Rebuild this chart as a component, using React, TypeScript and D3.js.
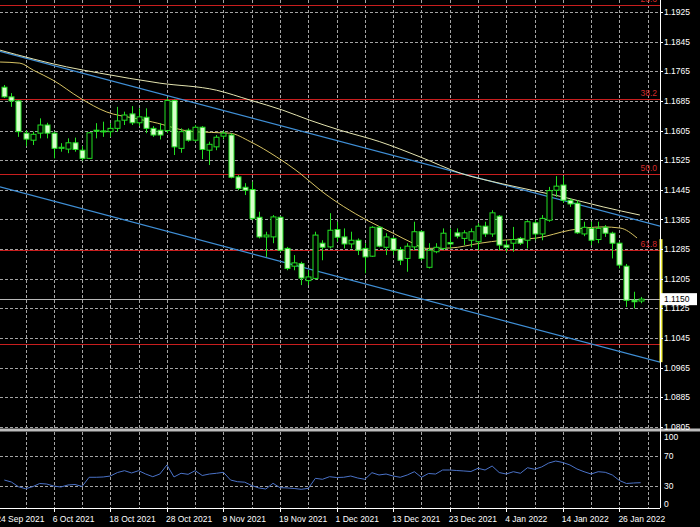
import React from 'react'
import * as d3 from 'd3'

// EURUSD daily, 27 Sep 2021 .. 31 Jan 2022
const open = [
	1.1722, 1.1696, 1.1685, 1.1598, 1.1579, 1.1598, 1.162, 1.1598, 1.1557, 1.1555,
	1.1572, 1.1552, 1.153, 1.1606, 1.1604, 1.1602, 1.1611, 1.1633, 1.165, 1.1626,
	1.1641, 1.1611, 1.1606, 1.1605, 1.1686, 1.1557, 1.1606, 1.1579, 1.1614, 1.1552,
	1.1561, 1.159, 1.1593, 1.148, 1.1452, 1.1446, 1.1371, 1.1318, 1.1318, 1.1371,
	1.1287, 1.1239, 1.1246, 1.12, 1.1206, 1.1301, 1.1291, 1.1338, 1.1318, 1.1299,
	1.1309, 1.1287, 1.1266, 1.1344, 1.129, 1.1314, 1.1284, 1.126, 1.1291, 1.1332,
	1.1236, 1.1278, 1.1287, 1.1303, 1.1329, 1.1314, 1.1309, 1.1305, 1.1347, 1.1326,
	1.1374, 1.1296, 1.1301, 1.1314, 1.1309, 1.1356, 1.1326, 1.1363, 1.1444, 1.1458,
	1.1417, 1.1409, 1.1326, 1.1341, 1.1311, 1.1344, 1.1328, 1.1301, 1.1239, 1.1147,
	1.1145
]
const high = [
	1.1728, 1.1706, 1.1687, 1.1606, 1.1602, 1.1638, 1.1626, 1.1602, 1.1571, 1.1584,
	1.1586, 1.1563, 1.1601, 1.1625, 1.1629, 1.1625, 1.1669, 1.1656, 1.1671, 1.1665,
	1.1665, 1.1617, 1.1625, 1.1692, 1.1689, 1.1611, 1.1611, 1.162, 1.1617, 1.1575,
	1.1593, 1.1605, 1.1598, 1.1485, 1.1463, 1.1467, 1.1386, 1.1332, 1.1377, 1.1374,
	1.1291, 1.1269, 1.1251, 1.1228, 1.1332, 1.1309, 1.1382, 1.1359, 1.1341, 1.1332,
	1.1314, 1.1301, 1.1347, 1.1347, 1.1328, 1.1318, 1.1291, 1.1301, 1.1359, 1.1336,
	1.1301, 1.1301, 1.1341, 1.1341, 1.1341, 1.1336, 1.1341, 1.1355, 1.1359, 1.139,
	1.1377, 1.1309, 1.1345, 1.1318, 1.1363, 1.1363, 1.1377, 1.1453, 1.1482, 1.1482,
	1.1422, 1.1417, 1.1359, 1.1359, 1.1359, 1.135, 1.1332, 1.1305, 1.1245, 1.117,
	1.1156
]
const low = [
	1.1693, 1.1669, 1.1588, 1.1563, 1.1566, 1.1584, 1.1584, 1.153, 1.1548, 1.1544,
	1.1548, 1.1524, 1.1529, 1.1584, 1.1588, 1.1588, 1.1602, 1.162, 1.162, 1.1617,
	1.1598, 1.1588, 1.1581, 1.1598, 1.1539, 1.1545, 1.1575, 1.1575, 1.1528, 1.1512,
	1.1552, 1.1581, 1.1476, 1.1444, 1.1431, 1.1363, 1.1314, 1.1264, 1.1301, 1.1278,
	1.1228, 1.1228, 1.1188, 1.1188, 1.1203, 1.1255, 1.1287, 1.1305, 1.1287, 1.1287,
	1.1269, 1.122, 1.1264, 1.129, 1.1269, 1.1269, 1.1242, 1.1224, 1.1282, 1.1254,
	1.1233, 1.1274, 1.1282, 1.1287, 1.1314, 1.1296, 1.129, 1.1282, 1.1318, 1.1318,
	1.1282, 1.1278, 1.1278, 1.1296, 1.1287, 1.1309, 1.1309, 1.1359, 1.1426, 1.141,
	1.1399, 1.1326, 1.132, 1.1296, 1.1301, 1.1318, 1.126, 1.1233, 1.1129, 1.1125,
	1.1139
]
const close = [
	1.1696, 1.1685, 1.1602, 1.1582, 1.1595, 1.162, 1.1598, 1.1557, 1.156, 1.1572,
	1.1554, 1.153, 1.1599, 1.1604, 1.1602, 1.1611, 1.1631, 1.1647, 1.1626, 1.1642,
	1.1611, 1.1593, 1.1593, 1.1686, 1.1561, 1.1602, 1.1579, 1.1614, 1.1554, 1.1568,
	1.1587, 1.1598, 1.1479, 1.1449, 1.1444, 1.1368, 1.1318, 1.1323, 1.1372, 1.1282,
	1.1233, 1.1248, 1.1207, 1.121, 1.1323, 1.129, 1.1336, 1.1317, 1.1299, 1.1309,
	1.1282, 1.1264, 1.1344, 1.1293, 1.1318, 1.1282, 1.1255, 1.1293, 1.1332, 1.126,
	1.1282, 1.129, 1.1328, 1.1299, 1.132, 1.1329, 1.1332, 1.1347, 1.1326, 1.1383,
	1.1296, 1.129, 1.1311, 1.1301, 1.1359, 1.1326, 1.1368, 1.1443, 1.1455, 1.1417,
	1.1407, 1.1329, 1.1344, 1.1309, 1.1341, 1.1328, 1.1301, 1.1242, 1.1147, 1.1143,
	1.115
]

// oscillator in the lower window
const oscValues = [
	37.7, 35, 28.7, 26, 28.7, 33, 32.3, 29.6, 28.3, 31, 31.7, 29, 41.4, 41.4, 41.8,
	43.1, 47.8, 50.3, 47.2, 50.3, 45.8, 42.2, 45.8, 58, 41.8, 46.8, 45.4, 50.3, 43.8,
	45.8, 46.8, 48.1, 37.7, 35.4, 34.8, 30.3, 27, 25.6, 33.3, 27.4, 27, 26.3, 25.2,
	26.5, 40, 38.7, 42.2, 41.1, 41.4, 43.1, 40.4, 38.7, 47.6, 44.5, 45.8, 43.1, 41.4,
	44.5, 48.9, 41.4, 46.5, 45.8, 51.2, 51.2, 50.5, 49.9, 49.2, 53.5, 51.2, 56.6, 47.8,
	45.8, 48.9, 46.8, 54.3, 52.2, 55.3, 60.6, 63.3, 61.3, 58, 52.6, 48.9, 45.8, 48.9,
	48.1, 44.5, 37.1, 33, 33.7, 34.1
]

// moving averages: [bar index, price]
const fastMA: [number, number][] = [
	[-0.6, 1.179], [2.2, 1.1787], [4.1, 1.1768], [6.9, 1.1741], [10.7, 1.1693],
	[14.5, 1.1655], [18.2, 1.1639], [21, 1.1628], [26.7, 1.1602], [31.9, 1.1598],
	[34.8, 1.1575], [38.5, 1.1534], [41.8, 1.149], [44.7, 1.1444], [51.3, 1.1363],
	[55, 1.1328], [57.8, 1.1301], [59.7, 1.1287], [63, 1.1288], [67.3, 1.1301],
	[70.5, 1.1309], [75.3, 1.1315], [80, 1.1336], [84.7, 1.1345], [87.1, 1.1342],
	[89.5, 1.1315]
]
const slowMA: [number, number][] = [
	[-0.6, 1.1822], [8.8, 1.1777], [13.5, 1.176], [22, 1.1733], [30, 1.1714],
	[34.8, 1.1687], [39.4, 1.166], [43.2, 1.1633], [47.5, 1.1606], [53.1, 1.1575],
	[58.8, 1.1534], [64.5, 1.149], [70.5, 1.1461], [79, 1.1426], [84.7, 1.1399],
	[89.9, 1.1377]
]

// channel lines: [bar index, price]
const channelTop: [number, number][] = [[-0.61, 1.1819], [92.75, 1.1347]]
const channelBottom: [number, number][] = [[-0.61, 1.1453], [92.75, 1.098]]

// fibonacci retracement
const fibHigh = 1.2353
const fibLow = 1.062
const fibLevels = [23.6, 38.2, 50, 61.8, 76.4]
const fibLabels = ['23.6', '38.2', '50.0', '61.8', '']

const priceTicks = [
	'1.0805', '1.0885', '1.0965', '1.1045', '1.1125', '1.1205', '1.1285', '1.1365',
	'1.1445', '1.1525', '1.1605', '1.1685', '1.1765', '1.1845', '1.1925'
]
const oscTicks = [0, 30, 70, 100]
const dateLabels = [
	'24 Sep 2021', '6 Oct 2021', '18 Oct 2021', '28 Oct 2021', '9 Nov 2021',
	'19 Nov 2021', '1 Dec 2021', '13 Dec 2021', '23 Dec 2021', '4 Jan 2022',
	'14 Jan 2022', '26 Jan 2022'
]
const lastPrice = 1.115
const markerRange = [1.1312, 1.098]

const width = 700
const height = 527
const axisX = 660
const mainBottom = 428
const oscTop = 432
const oscBottom = 508
const font = 'Liberation Sans, Arial, sans-serif'
const green = '#22e022'
const gridColor = '#a4a4a4'

const App = () => {
	const x = d3.scaleLinear().domain([0, 90]).range([4.3, 640.6])
	const y = d3.scaleLinear().domain([1.0805, 1.1925]).range([427, 12])
	const yOsc = d3.scaleLinear().domain([0, 100]).range([oscBottom, 433.8])

	const line = d3
		.line<[number, number]>()
		.x(d => x(d[0]))
		.y(d => y(d[1]))
	const smooth = d3
		.line<[number, number]>()
		.x(d => x(d[0]))
		.y(d => y(d[1]))
		.curve(d3.curveMonotoneX)
	const oscLine = d3
		.line<number>()
		.x((_, i) => x(i))
		.y(d => yOsc(d))

	const gridBars = d3.range(3, 92, 4)
	const crisp = (v: number) => Math.round(v) + 0.5

	return (
		<div style={{ position: 'fixed', left: 0, top: 0 }}>
			<svg width={width} height={height} style={{ display: 'block', background: '#000' }}>
				<defs>
					<clipPath id="main-clip">
						<rect x={0} y={0} width={axisX} height={mainBottom} />
					</clipPath>
				</defs>
				<rect width={width} height={height} fill="#000" />

				{/* grid */}
				<g stroke={gridColor} strokeDasharray="3,2" strokeWidth={1}>
					{priceTicks.map(t => (
						<line key={t} x1={0} x2={axisX} y1={crisp(y(+t))} y2={crisp(y(+t))} />
					))}
					{gridBars.map(b => (
						<g key={b}>
							<line x1={crisp(x(b))} x2={crisp(x(b))} y1={0} y2={mainBottom} />
							<line x1={crisp(x(b))} x2={crisp(x(b))} y1={oscTop} y2={oscBottom} />
						</g>
					))}
					{[30, 70].map(v => (
						<line key={v} x1={0} x2={axisX} y1={crisp(yOsc(v))} y2={crisp(yOsc(v))} />
					))}
				</g>

				<g clipPath="url(#main-clip)">
					{/* fibonacci levels */}
					{fibLevels.map((lv, i) => {
						const p = fibHigh - (lv / 100) * (fibHigh - fibLow)
						return (
							<g key={lv}>
								<line x1={0} x2={axisX} y1={crisp(y(p))} y2={crisp(y(p))} stroke="#c81e1e" strokeWidth={1.2} />
								<text x={657} y={y(p) - 3} fill="#d42a2a" fontSize={8.5} fontFamily={font} textAnchor="end">
									{fibLabels[i]}
								</text>
							</g>
						)
					})}

					{/* current price line */}
					<line x1={0} x2={axisX} y1={crisp(y(lastPrice))} y2={crisp(y(lastPrice))} stroke="#b8b8b8" strokeWidth={1} />

					{/* channel */}
					<path d={line(channelTop) ?? ''} fill="none" stroke="#3f8fd6" strokeWidth={1.2} />
					<path d={line(channelBottom) ?? ''} fill="none" stroke="#3f8fd6" strokeWidth={1.2} />

					{/* moving averages */}
					<path d={smooth(slowMA) ?? ''} fill="none" stroke="#e4e4b0" strokeWidth={1} />
					<path d={smooth(fastMA) ?? ''} fill="none" stroke="#d8c464" strokeWidth={1} />

					{/* candles */}
					{open.map((o, i) => {
						const c = close[i]
						const cx = crisp(x(i))
						const top = y(Math.max(o, c))
						const bot = y(Math.min(o, c))
						const bull = c >= o
						return (
							<g key={i}>
								<line x1={cx} x2={cx} y1={y(high[i])} y2={y(low[i])} stroke={green} strokeWidth={1} />
								<rect
									x={cx - 2.5}
									y={top}
									width={5}
									height={Math.max(bot - top, 1)}
									fill={bull ? '#000' : '#d8ffcc'}
									stroke={green}
									strokeWidth={1}
								/>
							</g>
						)
					})}
				</g>

				{/* yellow marker at the right edge */}
				<line
					x1={axisX + 1}
					x2={axisX + 1}
					y1={y(markerRange[0])}
					y2={y(markerRange[1])}
					stroke="#f4f040"
					strokeWidth={3}
				/>

				{/* window separator */}
				<rect x={0} y={428.5} width={width} height={3} fill="#bcbcbc" />

				{/* oscillator */}
				<path d={oscLine(oscValues) ?? ''} fill="none" stroke="#4a72c8" strokeWidth={1} />

				{/* axes */}
				<line x1={axisX + 0.5} x2={axisX + 0.5} y1={0} y2={oscBottom} stroke="#fff" strokeWidth={1} />
				<line x1={0} x2={axisX} y1={oscBottom + 0.5} y2={oscBottom + 0.5} stroke="#fff" strokeWidth={1} />

				<g fill="#fff" fontSize={8.5} fontFamily={font}>
					{priceTicks.map(t => (
						<g key={t}>
							<line x1={axisX} x2={axisX + 3} y1={crisp(y(+t))} y2={crisp(y(+t))} stroke="#fff" />
							<text x={664} y={y(+t)} dominantBaseline="central">
								{t}
							</text>
						</g>
					))}
					{oscTicks.map(v => (
						<text key={v} x={664} y={Math.min(Math.max(yOsc(v), 437), 504)} dominantBaseline="central">
							{v}
						</text>
					))}
					{dateLabels.map((d, i) => {
						const bx = x(-1 + 8 * i)
						return (
							<g key={d}>
								<line x1={crisp(bx)} x2={crisp(bx)} y1={oscBottom} y2={oscBottom + 4} stroke="#fff" />
								<text x={bx - 1} y={522}>
									{d}
								</text>
							</g>
						)
					})}
				</g>

				{/* last price box */}
				<rect x={661} y={y(lastPrice) - 6} width={36} height={12} fill="#fff" />
				<text x={664} y={y(lastPrice)} dominantBaseline="central" fontSize={8.5} fontFamily={font} fill="#000">
					{lastPrice.toFixed(4)}
				</text>
			</svg>
		</div>
	)
}

export default App
